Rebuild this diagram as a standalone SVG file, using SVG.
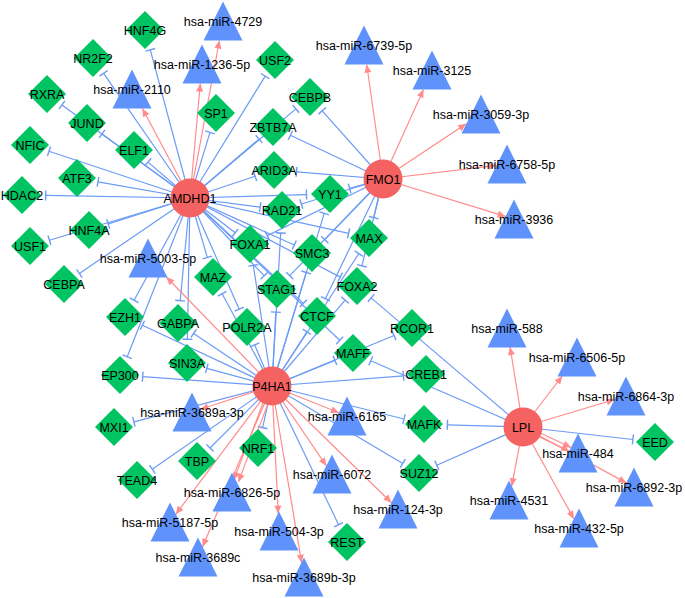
<svg xmlns="http://www.w3.org/2000/svg" xmlns:xlink="http://www.w3.org/1999/xlink" width="685" height="598" viewBox="0 0 685 598">
<style>
.e{stroke:#6b9bf7;stroke-width:1.2;fill:none;marker-end:url(#tee)}
.r{stroke:#ff8c8c;stroke-width:1.2;fill:none;marker-end:url(#arr)}
.d{fill:#00c462}
.t{fill:#5f93fb}
.h{fill:#f46261}
text{font-family:"Liberation Sans",Arial,Helvetica,sans-serif;font-size:12.5px;text-anchor:middle;fill:#000}
</style>
<defs>
<marker id="tee" markerUnits="userSpaceOnUse" markerWidth="12" markerHeight="12" viewBox="-6 -6 12 12" refX="0" refY="0" orient="auto"><path d="M0,-5V5" stroke="#6b9bf7" stroke-width="1.4"/></marker>
<marker id="arr" markerUnits="userSpaceOnUse" markerWidth="12" markerHeight="12" viewBox="-10 -6 12 12" refX="0" refY="0" orient="auto"><path d="M0,0L-8,-3.5L-8,3.5Z" fill="#ff8c8c"/></marker>
<polygon id="dia" points="0,-19 19,0 0,19 -19,0"/>
<polygon id="tri" points="0,-19.5 19.5,19.5 -19.5,19.5"/>
</defs>
<rect width="685" height="598" fill="#fff"/>
<g id="edges">
<!-- AMDHD1 -->
<line class="e" x1="190" y1="198" x2="150.3" y2="49.8"/>
<line class="e" x1="190" y1="198" x2="103.6" y2="73.3"/>
<line class="e" x1="190" y1="198" x2="62" y2="104.9"/>
<line class="e" x1="190" y1="198" x2="102" y2="133.9"/>
<line class="e" x1="190" y1="198" x2="148" y2="162.1"/>
<line class="e" x1="190" y1="198" x2="49" y2="151.3"/>
<line class="e" x1="190" y1="198" x2="98" y2="181.8"/>
<line class="e" x1="190" y1="198" x2="45.7" y2="195.4"/>
<line class="e" x1="190" y1="198" x2="108.2" y2="223.9"/>
<line class="e" x1="190" y1="198" x2="49.4" y2="240.2"/>
<line class="e" x1="190" y1="198" x2="79.4" y2="273.5"/>
<line class="e" x1="190" y1="198" x2="134.1" y2="300.3"/>
<line class="e" x1="190" y1="198" x2="127.2" y2="356.8"/>
<line class="e" x1="190" y1="198" x2="180.2" y2="300.7"/>
<line class="e" x1="190" y1="198" x2="187.4" y2="339.3"/>
<line class="e" x1="190" y1="198" x2="207.3" y2="257.5"/>
<line class="e" x1="190" y1="198" x2="239.2" y2="309.2"/>
<line class="e" x1="190" y1="198" x2="264.2" y2="275.7"/>
<line class="e" x1="190" y1="198" x2="235.2" y2="232.8"/>
<line class="e" x1="190" y1="198" x2="294.3" y2="245"/>
<line class="e" x1="190" y1="198" x2="340.2" y2="277.1"/>
<line class="e" x1="190" y1="198" x2="303.4" y2="303.4"/>
<line class="e" x1="190" y1="198" x2="339.7" y2="340.3"/>
<line class="e" x1="190" y1="198" x2="260.2" y2="207.2"/>
<line class="e" x1="190" y1="198" x2="306.5" y2="194.6"/>
<line class="e" x1="190" y1="198" x2="348.6" y2="233.4"/>
<line class="e" x1="190" y1="198" x2="255.1" y2="176.3"/>
<line class="e" x1="190" y1="198" x2="259" y2="139.1"/>
<line class="e" x1="190" y1="198" x2="295.9" y2="108.9"/>
<line class="e" x1="190" y1="198" x2="265.2" y2="76.1"/>
<line class="e" x1="190" y1="198" x2="210" y2="132.4"/>
<line class="r" x1="190" y1="198" x2="142.4" y2="108.5"/>
<line class="r" x1="190" y1="198" x2="200.3" y2="83.5"/>
<line class="r" x1="190" y1="198" x2="219.4" y2="40.5"/>
<!-- FMO1 -->
<line class="e" x1="383" y1="179" x2="322.2" y2="110.8"/>
<line class="e" x1="383" y1="179" x2="290.4" y2="135.2"/>
<line class="e" x1="383" y1="179" x2="296.5" y2="171.8"/>
<line class="e" x1="383" y1="179" x2="349.6" y2="188.4"/>
<line class="e" x1="383" y1="179" x2="301.3" y2="204"/>
<line class="e" x1="383" y1="179" x2="267.3" y2="235.6"/>
<line class="e" x1="383" y1="179" x2="324.8" y2="239.7"/>
<line class="e" x1="383" y1="179" x2="289.8" y2="275.7"/>
<line class="e" x1="383" y1="179" x2="325.4" y2="298.7"/>
<line class="e" x1="383" y1="179" x2="373.8" y2="217.7"/>
<line class="e" x1="383" y1="179" x2="361.9" y2="265.8"/>
<line class="r" x1="383" y1="179" x2="366.7" y2="64.5"/>
<line class="r" x1="383" y1="179" x2="423.5" y2="89.5"/>
<line class="r" x1="383" y1="179" x2="466.2" y2="123.8"/>
<line class="r" x1="383" y1="179" x2="496.6" y2="165.3"/>
<line class="r" x1="383" y1="179" x2="505.6" y2="216.4"/>
<!-- P4HA1 -->
<line class="e" x1="272" y1="386" x2="142.4" y2="325.2"/>
<line class="e" x1="272" y1="386" x2="142.7" y2="376.7"/>
<line class="e" x1="272" y1="386" x2="193.6" y2="333.4"/>
<line class="e" x1="272" y1="386" x2="206.8" y2="368.3"/>
<line class="e" x1="272" y1="386" x2="222.1" y2="293.7"/>
<line class="e" x1="272" y1="386" x2="254.7" y2="344.9"/>
<line class="e" x1="272" y1="386" x2="275.8" y2="312.1"/>
<line class="e" x1="272" y1="386" x2="253.3" y2="265.4"/>
<line class="e" x1="272" y1="386" x2="280.7" y2="233"/>
<line class="e" x1="272" y1="386" x2="306.2" y2="272.4"/>
<line class="e" x1="272" y1="386" x2="306.9" y2="331.8"/>
<line class="e" x1="272" y1="386" x2="345.1" y2="300.1"/>
<line class="e" x1="272" y1="386" x2="358.8" y2="253.7"/>
<line class="e" x1="272" y1="386" x2="324.2" y2="213.4"/>
<line class="e" x1="272" y1="386" x2="334.9" y2="360.4"/>
<line class="e" x1="272" y1="386" x2="394" y2="335.5"/>
<line class="e" x1="272" y1="386" x2="403.4" y2="375.8"/>
<line class="e" x1="272" y1="386" x2="404" y2="419"/>
<line class="e" x1="272" y1="386" x2="402.8" y2="463.4"/>
<line class="e" x1="272" y1="386" x2="338.6" y2="524.7"/>
<line class="e" x1="272" y1="386" x2="262.6" y2="427.6"/>
<line class="e" x1="272" y1="386" x2="210" y2="448"/>
<line class="e" x1="272" y1="386" x2="152.3" y2="469.3"/>
<line class="e" x1="272" y1="386" x2="133.9" y2="421.8"/>
<line class="r" x1="272" y1="386" x2="166.4" y2="277"/>
<line class="r" x1="272" y1="386" x2="200.4" y2="409.3"/>
<line class="r" x1="272" y1="386" x2="175.8" y2="514.3"/>
<line class="r" x1="274.3" y1="386.9" x2="238.4" y2="481.9"/>
<line class="r" x1="269.7" y1="385.1" x2="233.8" y2="480.1"/>
<line class="r" x1="272" y1="386" x2="202.5" y2="546.7"/>
<line class="r" x1="272" y1="386" x2="278.2" y2="513.6"/>
<line class="r" x1="272" y1="386" x2="301.6" y2="562.7"/>
<line class="r" x1="272" y1="386" x2="326.4" y2="465.8"/>
<line class="r" x1="272" y1="386" x2="338.9" y2="412.8"/>
<line class="r" x1="272" y1="386" x2="391.5" y2="502.7"/>
<!-- LPL -->
<line class="e" x1="523" y1="427" x2="371.1" y2="297.9"/>
<line class="e" x1="523" y1="427" x2="370.8" y2="360.8"/>
<line class="e" x1="523" y1="427" x2="447.4" y2="424.8"/>
<line class="e" x1="523" y1="427" x2="436.8" y2="465.2"/>
<line class="e" x1="523" y1="427" x2="632.9" y2="439.5"/>
<line class="r" x1="523" y1="427" x2="510.1" y2="347"/>
<line class="r" x1="523" y1="427" x2="562.3" y2="376"/>
<line class="r" x1="523" y1="427" x2="614.5" y2="399.5"/>
<line class="r" x1="523.9" y1="425.2" x2="571.1" y2="447.5"/>
<line class="r" x1="522.1" y1="428.8" x2="569.3" y2="451.1"/>
<line class="r" x1="523" y1="427" x2="626.4" y2="482.9"/>
<line class="r" x1="523" y1="427" x2="511.7" y2="486.2"/>
<line class="r" x1="523" y1="427" x2="573.9" y2="518.9"/>
</g>
<g id="nodes">
<g id="HNF4G"><use href="#dia" class="d" x="145" y="30"/><text x="145" y="34.5">HNF4G</text></g>
<g id="NR2F2"><use href="#dia" class="d" x="93" y="58"/><text x="93" y="62.5">NR2F2</text></g>
<g id="RXRA"><use href="#dia" class="d" x="47" y="94"/><text x="47" y="98.5">RXRA</text></g>
<g id="JUND"><use href="#dia" class="d" x="87" y="123"/><text x="87" y="127.5">JUND</text></g>
<g id="ELF1"><use href="#dia" class="d" x="134" y="150"/><text x="134" y="154.5">ELF1</text></g>
<g id="NFIC"><use href="#dia" class="d" x="30" y="145"/><text x="30" y="149.5">NFIC</text></g>
<g id="ATF3"><use href="#dia" class="d" x="77" y="178"/><text x="77" y="182.5">ATF3</text></g>
<g id="HDAC2"><use href="#dia" class="d" x="22" y="195"/><text x="22" y="199.5">HDAC2</text></g>
<g id="HNF4A"><use href="#dia" class="d" x="89" y="230"/><text x="89" y="234.5">HNF4A</text></g>
<g id="USF1"><use href="#dia" class="d" x="30" y="246"/><text x="30" y="250.5">USF1</text></g>
<g id="CEBPA"><use href="#dia" class="d" x="64" y="284"/><text x="64" y="288.5">CEBPA</text></g>
<g id="EZH1"><use href="#dia" class="d" x="125" y="317"/><text x="125" y="321.5">EZH1</text></g>
<g id="GABPA"><use href="#dia" class="d" x="178" y="323"/><text x="178" y="327.5">GABPA</text></g>
<g id="SIN3A"><use href="#dia" class="d" x="187" y="363"/><text x="187" y="367.5">SIN3A</text></g>
<g id="EP300"><use href="#dia" class="d" x="120" y="375"/><text x="120" y="379.5">EP300</text></g>
<g id="MAZ"><use href="#dia" class="d" x="213" y="277"/><text x="213" y="281.5">MAZ</text></g>
<g id="SP1"><use href="#dia" class="d" x="216" y="113"/><text x="216" y="117.5">SP1</text></g>
<g id="USF2"><use href="#dia" class="d" x="275" y="60"/><text x="275" y="64.5">USF2</text></g>
<g id="CEBPB"><use href="#dia" class="d" x="310" y="97"/><text x="310" y="101.5">CEBPB</text></g>
<g id="ZBTB7A"><use href="#dia" class="d" x="273" y="127"/><text x="273" y="131.5">ZBTB7A</text></g>
<g id="ARID3A"><use href="#dia" class="d" x="274" y="170"/><text x="274" y="174.5">ARID3A</text></g>
<g id="YY1"><use href="#dia" class="d" x="330" y="194"/><text x="330" y="198.5">YY1</text></g>
<g id="RAD21"><use href="#dia" class="d" x="282" y="210"/><text x="282" y="214.5">RAD21</text></g>
<g id="FOXA1"><use href="#dia" class="d" x="250" y="244"/><text x="250" y="248.5">FOXA1</text></g>
<g id="SMC3"><use href="#dia" class="d" x="312" y="253"/><text x="312" y="257.5">SMC3</text></g>
<g id="MAX"><use href="#dia" class="d" x="369" y="238"/><text x="369" y="242.5">MAX</text></g>
<g id="STAG1"><use href="#dia" class="d" x="277" y="289"/><text x="277" y="293.5">STAG1</text></g>
<g id="FOXA2"><use href="#dia" class="d" x="357" y="286"/><text x="357" y="290.5">FOXA2</text></g>
<g id="CTCF"><use href="#dia" class="d" x="317" y="316"/><text x="317" y="320.5">CTCF</text></g>
<g id="POLR2A"><use href="#dia" class="d" x="247" y="327"/><text x="247" y="331.5">POLR2A</text></g>
<g id="RCOR1"><use href="#dia" class="d" x="412" y="328"/><text x="412" y="332.5">RCOR1</text></g>
<g id="MAFF"><use href="#dia" class="d" x="353" y="353"/><text x="353" y="357.5">MAFF</text></g>
<g id="CREB1"><use href="#dia" class="d" x="426" y="374"/><text x="426" y="378.5">CREB1</text></g>
<g id="MAFK"><use href="#dia" class="d" x="424" y="424"/><text x="424" y="428.5">MAFK</text></g>
<g id="SUZ12"><use href="#dia" class="d" x="419" y="473"/><text x="419" y="477.5">SUZ12</text></g>
<g id="EED"><use href="#dia" class="d" x="655" y="442"/><text x="655" y="446.5">EED</text></g>
<g id="MXI1"><use href="#dia" class="d" x="114" y="427"/><text x="114" y="431.5">MXI1</text></g>
<g id="TBP"><use href="#dia" class="d" x="197" y="461"/><text x="197" y="465.5">TBP</text></g>
<g id="TEAD4"><use href="#dia" class="d" x="137" y="480"/><text x="137" y="484.5">TEAD4</text></g>
<g id="NRF1"><use href="#dia" class="d" x="258" y="448"/><text x="258" y="452.5">NRF1</text></g>
<g id="REST"><use href="#dia" class="d" x="347" y="542"/><text x="347" y="546.5">REST</text></g>

<g id="miR-4729"><use href="#tri" class="t" x="223" y="21"/><text x="223" y="25.5">hsa-miR-4729</text></g>
<g id="miR-1236-5p"><use href="#tri" class="t" x="202" y="64"/><text x="202" y="68.5">hsa-miR-1236-5p</text></g>
<g id="miR-2110"><use href="#tri" class="t" x="132" y="89"/><text x="132" y="93.5">hsa-miR-2110</text></g>
<g id="miR-6739-5p"><use href="#tri" class="t" x="364" y="45"/><text x="364" y="49.5">hsa-miR-6739-5p</text></g>
<g id="miR-3125"><use href="#tri" class="t" x="432" y="70"/><text x="432" y="74.5">hsa-miR-3125</text></g>
<g id="miR-3059-3p"><use href="#tri" class="t" x="481" y="114"/><text x="481" y="118.5">hsa-miR-3059-3p</text></g>
<g id="miR-6758-5p"><use href="#tri" class="t" x="507" y="164"/><text x="507" y="168.5">hsa-miR-6758-5p</text></g>
<g id="miR-3936"><use href="#tri" class="t" x="514" y="219"/><text x="514" y="223.5">hsa-miR-3936</text></g>
<g id="miR-5003-5p"><use href="#tri" class="t" x="148" y="258"/><text x="148" y="262.5">hsa-miR-5003-5p</text></g>
<g id="miR-3689a-3p"><use href="#tri" class="t" x="192" y="412"/><text x="192" y="416.5">hsa-miR-3689a-3p</text></g>
<g id="miR-6826-5p"><use href="#tri" class="t" x="232" y="492"/><text x="232" y="496.5">hsa-miR-6826-5p</text></g>
<g id="miR-5187-5p"><use href="#tri" class="t" x="170" y="522"/><text x="170" y="526.5">hsa-miR-5187-5p</text></g>
<g id="miR-3689c"><use href="#tri" class="t" x="198" y="557"/><text x="198" y="561.5">hsa-miR-3689c</text></g>
<g id="miR-504-3p"><use href="#tri" class="t" x="279" y="531"/><text x="279" y="535.5">hsa-miR-504-3p</text></g>
<g id="miR-3689b-3p"><use href="#tri" class="t" x="304" y="577"/><text x="304" y="581.5">hsa-miR-3689b-3p</text></g>
<g id="miR-6072"><use href="#tri" class="t" x="332" y="474"/><text x="332" y="478.5">hsa-miR-6072</text></g>
<g id="miR-6165"><use href="#tri" class="t" x="347" y="416"/><text x="347" y="420.5">hsa-miR-6165</text></g>
<g id="miR-124-3p"><use href="#tri" class="t" x="398" y="509"/><text x="398" y="513.5">hsa-miR-124-3p</text></g>
<g id="miR-588"><use href="#tri" class="t" x="507" y="328"/><text x="507" y="332.5">hsa-miR-588</text></g>
<g id="miR-6506-5p"><use href="#tri" class="t" x="577" y="357"/><text x="577" y="361.5">hsa-miR-6506-5p</text></g>
<g id="miR-6864-3p"><use href="#tri" class="t" x="626" y="396"/><text x="626" y="400.5">hsa-miR-6864-3p</text></g>
<g id="miR-484"><use href="#tri" class="t" x="578" y="453"/><text x="578" y="457.5">hsa-miR-484</text></g>
<g id="miR-6892-3p"><use href="#tri" class="t" x="634" y="487"/><text x="634" y="491.5">hsa-miR-6892-3p</text></g>
<g id="miR-4531"><use href="#tri" class="t" x="509" y="500"/><text x="509" y="504.5">hsa-miR-4531</text></g>
<g id="miR-432-5p"><use href="#tri" class="t" x="579" y="528"/><text x="579" y="532.5">hsa-miR-432-5p</text></g>

<g id="AMDHD1"><circle class="h" cx="190" cy="198" r="19.5"/><text x="190" y="202.5">AMDHD1</text></g>
<g id="FMO1"><circle class="h" cx="383" cy="179" r="19.5"/><text x="383" y="183.5">FMO1</text></g>
<g id="P4HA1"><circle class="h" cx="272" cy="386" r="19.5"/><text x="272" y="390.5">P4HA1</text></g>
<g id="LPL"><circle class="h" cx="523" cy="427" r="19.5"/><text x="523" y="431.5">LPL</text></g>
</g>
</svg>
